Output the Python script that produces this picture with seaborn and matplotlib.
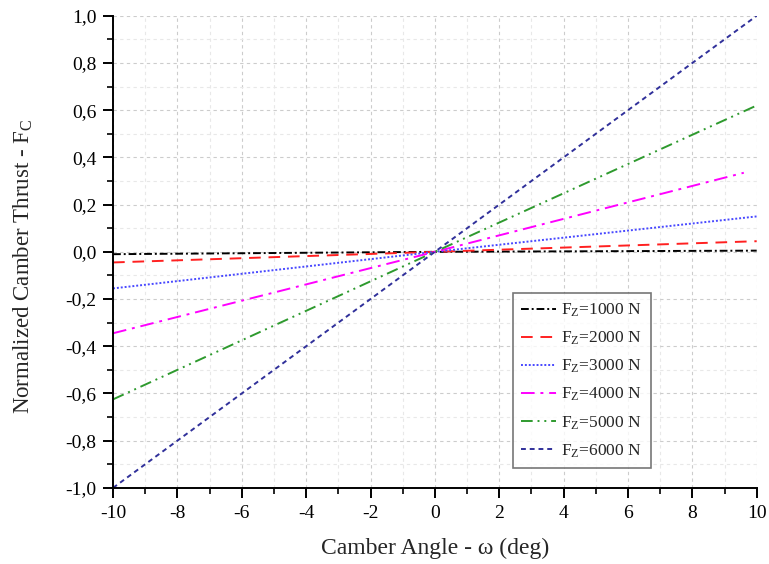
import numpy as np
import pandas as pd
import matplotlib
matplotlib.use("Agg")
import matplotlib.pyplot as plt
from matplotlib.ticker import MultipleLocator, FuncFormatter
import seaborn as sns

# valores (reta, pontos nas extremidades e centro)
loads = ["1000", "2000", "3000", "4000", "5000", "6000"]
camber_x = {
    "1000": [-10, 0, 10],
    "2000": [-10, 0, 10],
    "3000": [-10, 0, 10],
    "4000": [-10, 0, 9.6],
    "5000": [-10, 0, 10],
    "6000": [-10, 0, 10],
}
thrust_y = {
    "1000": [-0.010, 0.0, 0.005],
    "2000": [-0.045, 0.0, 0.045],
    "3000": [-0.155, 0.0, 0.150],
    "4000": [-0.345, 0.0, 0.335],
    "5000": [-0.625, 0.0, 0.620],
    "6000": [-1.000, 0.0, 1.000],
}

colors = {"1000": "#000000", "2000": "#ff2020", "3000": "#4848ff",
          "4000": "#ff00ff", "5000": "#2e9a2e", "6000": "#30309a"}
dashes = {"1000": (4, 1.5, 1, 1.5), "2000": (6, 4), "3000": (1, 1),
          "4000": (7, 3, 1.5, 3), "5000": (6, 2.5, 1, 2.5, 1, 2.5), "6000": (2.5, 2)}

sns.set_style("white")
plt.rcParams['font.family'] = ['Liberation Serif', 'DejaVu Serif']
plt.rcParams['mathtext.fontset'] = 'custom'
plt.rcParams['mathtext.rm'] = 'Liberation Serif'
plt.rcParams['mathtext.it'] = 'Liberation Serif'

fig = plt.figure(figsize=(7.69, 5.64), dpi=100)
ax = fig.add_axes([0.147, 0.135, 0.837, 0.837])

for ld in loads:
    df = pd.DataFrame({"x": camber_x[ld], "y": thrust_y[ld]})
    sns.lineplot(data=df, x="x", y="y", ax=ax, color=colors[ld],
                 dashes=dashes[ld], linewidth=1.4,
                 label=r"F$_{\mathrm{Z}}$=" + ld + " N")

ax.set_xlim(-10, 10)
ax.set_ylim(-1, 1)
ax.xaxis.set_major_locator(MultipleLocator(2))
ax.xaxis.set_minor_locator(MultipleLocator(1))
ax.yaxis.set_major_locator(MultipleLocator(0.2))
ax.yaxis.set_minor_locator(MultipleLocator(0.1))
ax.xaxis.set_major_formatter(FuncFormatter(lambda v, p: f"{v:.0f}"))
ax.yaxis.set_major_formatter(FuncFormatter(lambda v, p: f"{v:.1f}".replace(".", ",")))

ax.grid(which="major", color="#cccccc", linestyle=(0, (3, 3)), linewidth=0.8)
ax.grid(which="minor", color="#e8e8e8", linestyle=(0, (3, 3)), linewidth=0.8)
ax.set_axisbelow(True)

for s in ["top", "right"]:
    ax.spines[s].set_visible(False)
for s in ["left", "bottom"]:
    ax.spines[s].set_color("black")
    ax.spines[s].set_linewidth(1.4)

ax.tick_params(which="major", direction="out", length=7, width=1.4, pad=5,
               labelsize=14, colors="black", left=True, bottom=True)
ax.tick_params(which="minor", direction="out", length=4, width=1.4,
               left=True, bottom=True)

ax.set_xlabel("Camber Angle - ω (deg)", fontsize=17, labelpad=12)
ax.set_ylabel(r"Normalized Camber Thrust - F$_{\mathrm{C}}$", fontsize=16.5)
ax.yaxis.set_label_coords(-0.122, 0.47)

leg = ax.legend(loc="upper left", bbox_to_anchor=(0.621, 0.413), fontsize=12.5,
                frameon=True, fancybox=False, edgecolor="#555555",
                handlelength=2.0, labelspacing=0.62, borderpad=0.5,
                handletextpad=0.3, borderaxespad=0)
leg.get_frame().set_linewidth(1.2)

plt.savefig("out.png", dpi=100)
